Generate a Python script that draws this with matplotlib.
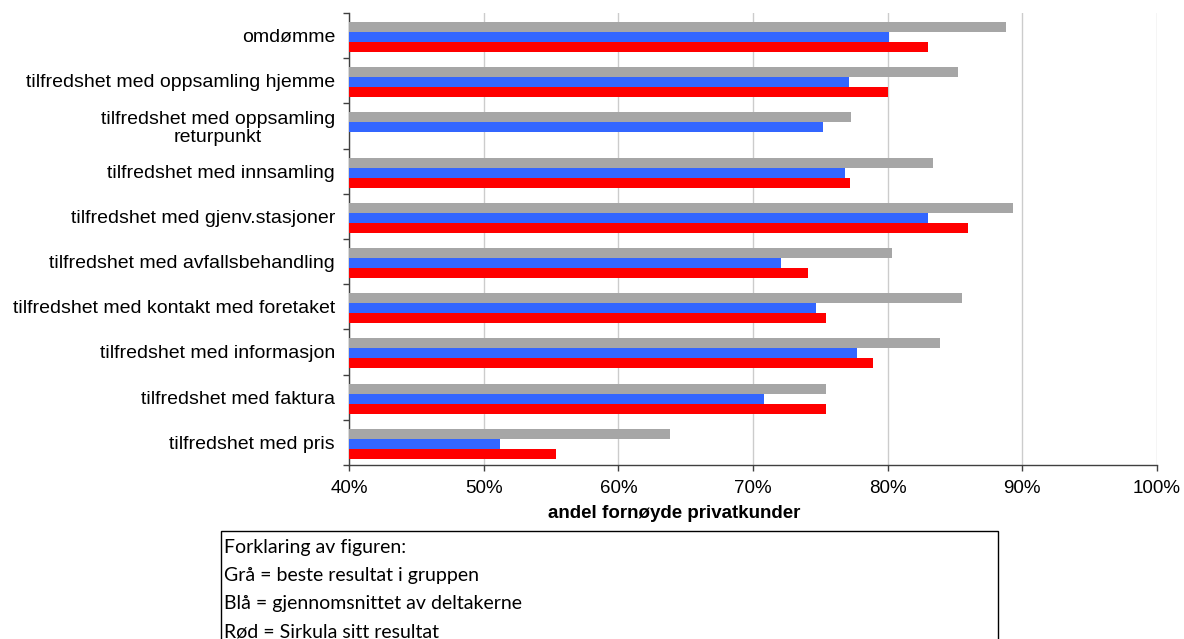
import numpy as np
import matplotlib.pyplot as plt
from matplotlib.patches import Rectangle

# Satisfaction per question, share of satisfied private customers (%)
categories = [
    'omdømme',
    'tilfredshet med oppsamling hjemme',
    'tilfredshet med oppsamling\nreturpunkt',
    'tilfredshet med innsamling',
    'tilfredshet med gjenv.stasjoner',
    'tilfredshet med avfallsbehandling',
    'tilfredshet med kontakt med foretaket',
    'tilfredshet med informasjon',
    'tilfredshet med faktura',
    'tilfredshet med pris',
]
best = [88.8, 85.2, 77.3, 83.4, 89.3, 80.3, 85.5, 83.9, 75.4, 63.8]     # grå
average = [80.1, 77.1, 75.2, 76.8, 83.0, 72.1, 74.7, 77.7, 70.8, 51.2]  # blå
sirkula = [83.0, 80.0, np.nan, 77.2, 86.0, 74.1, 75.4, 78.9, 75.4, 55.4]  # rød

legend_lines = [
    'Forklaring av figuren:',
    'Grå = beste resultat i gruppen',
    'Blå = gjennomsnittet av deltakerne',
    'Rød = Sirkula sitt resultat',
]

plt.rcParams['font.family'] = ['Liberation Sans', 'DejaVu Sans']

W, H = 1184, 639
fig = plt.figure(figsize=(W / 100, H / 100), dpi=100)
ax = fig.add_axes([349 / W, 1 - 465 / H, (1157 - 349) / W, (465 - 13) / H])

y = np.arange(len(categories)) + 0.03
h = 0.222
ax.barh(y - h, best, height=h, color='#a6a6a6', zorder=3)
ax.barh(y, average, height=h, color='#3366ff', zorder=3)
ax.barh(y + h, sirkula, height=h, color='#ff0000', zorder=3)

ax.set_xlim(40, 100)
ax.set_ylim(len(categories) - 0.5, -0.5)

ax.set_xticks(np.arange(40, 101, 10))
ax.set_xticklabels([f'{v}%' for v in range(40, 101, 10)], fontsize=13.5)
ax.set_yticks(np.arange(len(categories)))
ax.set_yticklabels(categories, fontsize=14, linespacing=1.1)
for lbl in ax.get_yticklabels():
    lbl.set_multialignment('center')
ax.set_yticks(np.arange(-0.5, len(categories)), minor=True)
ax.tick_params(axis='y', which='major', length=0, pad=10)
ax.tick_params(axis='y', which='minor', length=4, width=1, color='#404040')
ax.tick_params(axis='x', length=4, width=1, color='#404040', pad=7)

ax.grid(axis='x', color='#cccccc', linewidth=1, zorder=0)
for side in ('top', 'right'):
    ax.spines[side].set_visible(False)
for side in ('left', 'bottom'):
    ax.spines[side].set_color('#404040')
    ax.spines[side].set_linewidth(1)

fig.text(674 / W, 1 - 513 / H, 'andel fornøyde privatkunder', ha='center', va='center',
         fontsize=13.5, fontweight='bold')

# Explanation box below the chart
fig.patches.append(Rectangle((221 / W, -0.05), (998 - 221) / W, 0.05 + (1 - 531 / H),
                             transform=fig.transFigure, fill=False, edgecolor='black',
                             linewidth=1))
for i, line in enumerate(legend_lines):
    fig.text(224 / W, 1 - (548 + 28 * i) / H, line, ha='left', va='center',
             fontsize=14, family=['Lato', 'DejaVu Sans'])

fig.savefig('out.png', dpi=100)
